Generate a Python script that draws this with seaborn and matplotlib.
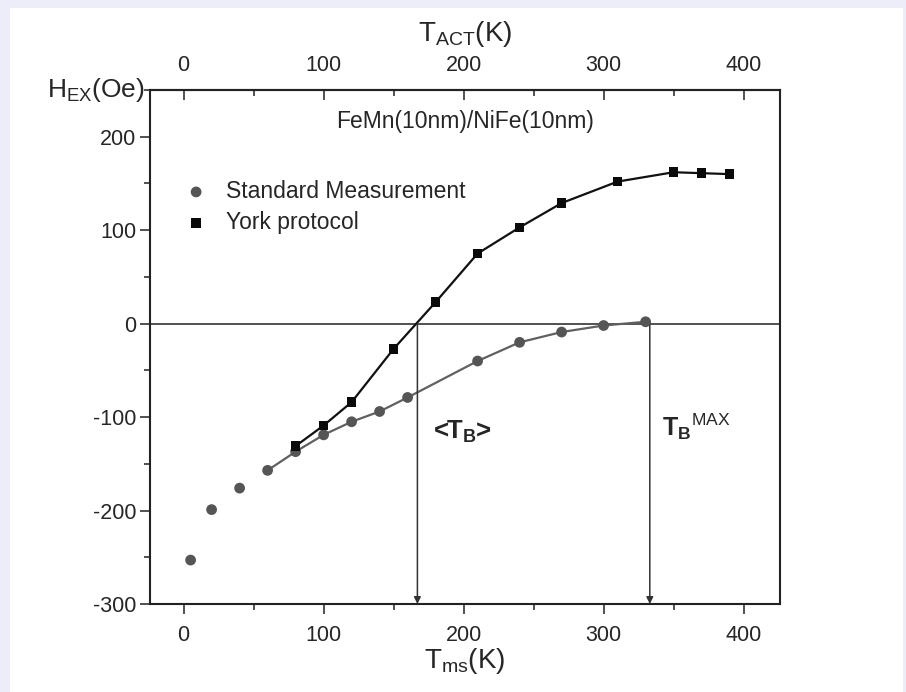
import numpy as np
import pandas as pd
import seaborn as sns
import matplotlib.pyplot as plt
from matplotlib.patches import Rectangle
from matplotlib.ticker import MultipleLocator

# Standard measurement (grey circles)
std_t = [5, 20, 40, 60, 80, 100, 120, 140, 160, 210, 240, 270, 300, 330]
std_h = [-253, -199, -176, -157, -137, -119, -105, -94, -79, -40, -20, -9, -2, 2]
# the fitted curve only covers the points from 60 K on
std_curve_start = 3

# York protocol (black squares)
york_t = [80, 100, 120, 150, 180, 210, 240, 270, 310, 350, 370, 390]
york_h = [-131, -109, -84, -27, 23, 75, 103, 129, 152, 162, 161, 160]

x_ticks = [0, 100, 200, 300, 400]
y_ticks = [200, 100, 0, -100, -200, -300]
t_b_mean = 167
t_b_max = 333

sns.set_theme(style="ticks")
plt.rcParams['font.family'] = ['Liberation Sans', 'DejaVu Sans']
plt.rcParams['mathtext.fontset'] = 'custom'
plt.rcParams['mathtext.rm'] = 'Liberation Sans'
plt.rcParams['mathtext.it'] = 'Liberation Sans:italic'
plt.rcParams['mathtext.bf'] = 'Liberation Sans:bold'
plt.rcParams['axes.unicode_minus'] = False

std = pd.DataFrame({"T": std_t, "H": std_h})
york = pd.DataFrame({"T": york_t, "H": york_h})

fig = plt.figure(figsize=(9.06, 6.92), dpi=100)
fig.patch.set_facecolor('#ededf9')
fig.patches.append(Rectangle((10 / 906, 0), 893 / 906, 684 / 692,
                             transform=fig.transFigure, facecolor='white',
                             edgecolor='none', zorder=-10))
ax = fig.add_axes([150 / 906, 88 / 692, 630 / 906, 514 / 692])

grey = '#555555'
ax.axhline(0, color='#222222', lw=1.1, zorder=1)

sns.lineplot(data=std.iloc[std_curve_start:], x="T", y="H", color='#606060',
             lw=1.6, ax=ax, legend=False, zorder=2)
sns.lineplot(data=york, x="T", y="H", color='#111111', lw=1.6, ax=ax,
             legend=False, zorder=3)
sns.scatterplot(data=std, x="T", y="H", color=grey, marker='o', s=60,
                edgecolor='none', ax=ax, label="Standard Measurement", zorder=4)
sns.scatterplot(data=york, x="T", y="H", color='#0a0a0a', marker='s', s=48,
                edgecolor='none', ax=ax, label="York protocol", zorder=5)

for xv, y0 in [(t_b_mean, 0), (t_b_max, std_h[-1])]:
    ax.annotate('', xy=(xv, -300), xytext=(xv, y0),
                arrowprops=dict(arrowstyle='-|>', color='#333333', lw=1.1,
                                mutation_scale=10, shrinkA=0, shrinkB=0))

ax.text(178, -123, r'<T$_\mathbf{B}$>', fontsize=18.5, fontweight='bold',
        ha='left', va='baseline')
ax.text(342, -120, r'T$_\mathbf{B}{}^\mathrm{MAX}$', fontsize=18,
        fontweight='bold', ha='left', va='baseline')
ax.text(201, 216, 'FeMn(10nm)/NiFe(10nm)', fontsize=16.5, ha='center',
        va='center')

ax.set_xlim(-24, 426)
ax.set_ylim(-300, 250)
ax.set_xticks(x_ticks)
ax.set_yticks(y_ticks)
ax.xaxis.set_minor_locator(MultipleLocator(50))
ax.yaxis.set_minor_locator(MultipleLocator(50))
ax.tick_params(which='major', direction='out', length=7, width=1.1,
               labelsize=15.5, color='#222222')
ax.tick_params(which='minor', direction='out', length=4.5, width=1.1,
               color='#222222')
ax.tick_params(axis='x', pad=8)
ax.tick_params(axis='y', pad=3)
ax.set_xlabel(r'T$_\mathrm{ms}$(K)', fontsize=20, labelpad=0)
ax.set_ylabel('')
ax.text(-0.008, 1.0, r'H$_\mathrm{EX}$(Oe)', transform=ax.transAxes,
        fontsize=19, ha='right', va='center')

for side in ['left', 'right', 'top', 'bottom']:
    ax.spines[side].set_visible(True)
    ax.spines[side].set_linewidth(1.5)
    ax.spines[side].set_color('#222222')

top = ax.secondary_xaxis('top')
top.set_xticks(x_ticks)
top.xaxis.set_minor_locator(MultipleLocator(50))
top.tick_params(which='major', direction='in', length=7, width=1.1,
                labelsize=15.5, pad=10, color='#222222')
top.tick_params(which='minor', direction='in', length=4.5, width=1.1,
                color='#222222')
top.spines['top'].set_linewidth(1.5)
top.set_xlabel(r'T$_\mathrm{ACT}$(K)', fontsize=20, labelpad=10)

ax.legend(loc='upper left', bbox_to_anchor=(0.055, 0.825), frameon=False,
          fontsize=16.5, handlelength=1.0, handletextpad=0.8,
          labelspacing=0.35, borderpad=0, borderaxespad=0)

fig.savefig('out.png', dpi=100, facecolor=fig.get_facecolor())
